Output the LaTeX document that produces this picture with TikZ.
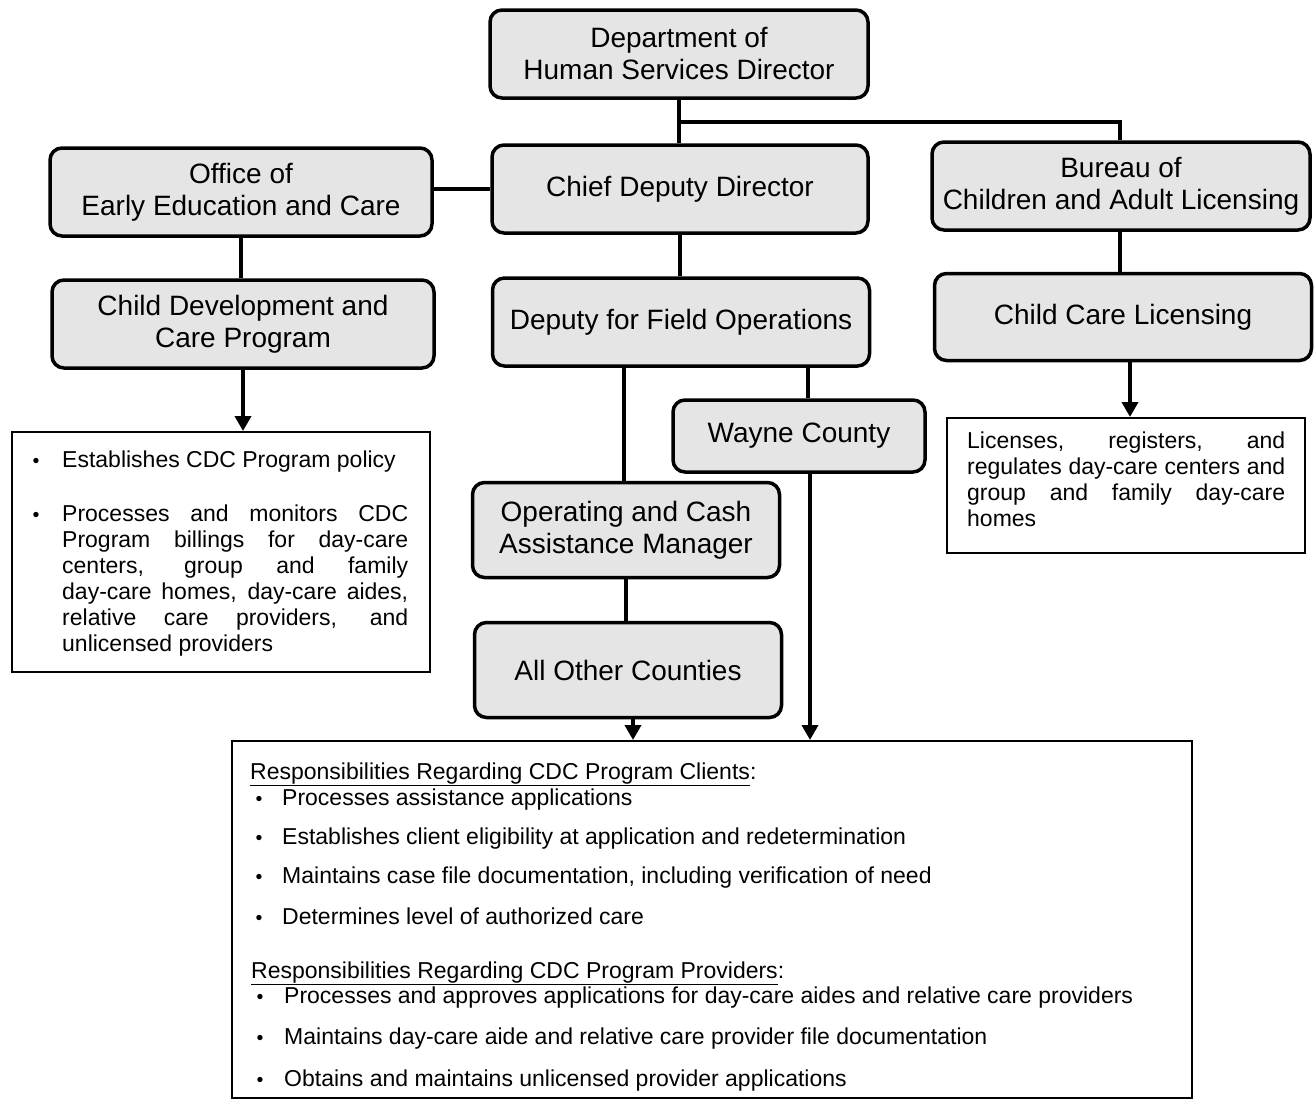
\documentclass[tikz,border=0pt]{standalone}
\usepackage{fontspec}
\setmainfont{Liberation Sans}
\usetikzlibrary{arrows.meta}
\newcommand{\smbullet}{\scalebox{0.85}{\textbullet}}
\begin{document}
\begin{tikzpicture}[x=1pt,y=-1pt,
  orgbox/.style={draw, line width=3.5pt, rounded corners=12pt, fill=black!10, align=center, inner sep=0pt, font=\fontsize{28}{32}\selectfont},
  txtbox/.style={draw, line width=2pt, inner sep=0pt},
  conn/.style={line width=4.5pt},
  arr/.style={line width=4.5pt, -{Triangle[width=16pt,length=15pt]}},
  btxt/.style={inner sep=0pt, font=\fontsize{23}{26.5}\selectfont},
  ltxt/.style={inner sep=0pt, font=\fontsize{23}{26}\selectfont}
]
\useasboundingbox (0,0) rectangle (1315,1100);
% org boxes
\node[orgbox, minimum width=378pt, minimum height=88pt] (dir) at (679,54) {Department of\\Human Services Director};
\node[orgbox, minimum width=376pt, minimum height=88pt] (cdd) at (680,189) {Chief Deputy Director};
\node[orgbox, minimum width=382pt, minimum height=88pt] (oeec) at (241,192) {Office of\\Early Education and Care};
\node[orgbox, minimum width=378pt, minimum height=88pt] (bur) at (1121,186) {Bureau of\\Children and Adult Licensing};
\node[orgbox, minimum width=382pt, minimum height=88pt] (cdcp) at (243,324) {Child Development and\\Care Program};
\node[orgbox, minimum width=377pt, minimum height=88pt] (dfo) at (681,322) {Deputy for Field Operations};
\node[orgbox, minimum width=377pt, minimum height=87pt] (ccl) at (1123,317) {Child Care Licensing};
\node[orgbox, minimum width=252pt, minimum height=72pt] (wayne) at (799,436) {Wayne County};
\node[orgbox, minimum width=307pt, minimum height=95pt] (ocam) at (626,530) {Operating and Cash\\Assistance Manager};
\node[orgbox, minimum width=307pt, minimum height=95pt] (aoc) at (628,670) {All Other Counties};
% text boxes
\node[txtbox, minimum width=418pt, minimum height=240pt] (lbox) at (221,552) {};
\node[txtbox, minimum width=358pt, minimum height=135pt] (rbox) at (1126,485.5) {};
\node[txtbox, minimum width=960pt, minimum height=357pt] (bbox) at (712,919.5) {};
% connectors
\draw[conn] (dir.south) -- (dir.south |- cdd.north);
\coordinate (jn) at (679,122);
\draw[conn] (jn) -| ([xshift=-1pt]bur.north);
\draw[conn] (oeec.east |- cdd.west) -- (cdd.west);
\draw[conn] (oeec.south) -- (oeec.south |- cdcp.north);
\draw[conn] (cdd.south) -- (cdd.south |- dfo.north);
\draw[conn] ([xshift=-1pt]bur.south) -- ([xshift=-1pt]bur.south |- ccl.north);
\draw[conn] ([xshift=-2pt]ocam.north |- dfo.south) -- ([xshift=-2pt]ocam.north);
\draw[conn] ([xshift=9pt]wayne.north |- dfo.south) -- ([xshift=9pt]wayne.north);
\draw[conn] (ocam.south) -- (ocam.south |- aoc.north);
\draw[arr] (cdcp.south) -- (cdcp.south |- lbox.north);
\draw[arr] ([xshift=7pt]ccl.south) -- ([xshift=7pt]ccl.south |- rbox.north);
\draw[arr] ([xshift=5pt]aoc.south) -- ([xshift=5pt]aoc.south |- bbox.north);
\draw[arr] ([xshift=11pt]wayne.south) -- ([xshift=11pt]wayne.south |- bbox.north);
% left box text
\node[ltxt, anchor=base] (lb1) at (36,467) {\smbullet};
\node[ltxt, anchor=base west] (lt1) at (62,467) {Establishes CDC Program policy};
\node[ltxt, anchor=base] (lb2) at (36,521) {\smbullet};
\node[ltxt, anchor=north west, text width=346pt, align=justify] (lt2) at (62,505) {Processes and monitors CDC\linebreak Program billings for day-care\linebreak centers, group and family\linebreak day-care homes, day-care aides,\linebreak relative care providers, and\linebreak unlicensed providers};
% right box text
\node[ltxt, anchor=north west, text width=318pt, align=justify] (rt) at (967,432) {Licenses, registers, and\linebreak regulates day-care centers and\linebreak group and family day-care\linebreak homes};
% bottom box text
\node[btxt, anchor=base west] (h1) at (250,779) {\underline{Responsibilities Regarding CDC Program Clients}:};
\node[btxt, anchor=base] (b1) at (259,805) {\smbullet};
\node[btxt, anchor=base west] (t1) at (282,805) {Processes assistance applications};
\node[btxt, anchor=base] (b2) at (259,844) {\smbullet};
\node[btxt, anchor=base west] (t2) at (282,844) {Establishes client eligibility at application and redetermination};
\node[btxt, anchor=base] (b3) at (259,883) {\smbullet};
\node[btxt, anchor=base west] (t3) at (282,883) {Maintains case file documentation, including verification of need};
\node[btxt, anchor=base] (b4) at (259,924) {\smbullet};
\node[btxt, anchor=base west] (t4) at (282,924) {Determines level of authorized care};
\node[btxt, anchor=base west] (h2) at (251,978) {\underline{Responsibilities Regarding CDC Program Providers}:};
\node[btxt, anchor=base] (b5) at (260,1003) {\smbullet};
\node[btxt, anchor=base west] (t5) at (284,1003) {Processes and approves applications for day-care aides and relative care providers};
\node[btxt, anchor=base] (b6) at (260,1044) {\smbullet};
\node[btxt, anchor=base west] (t6) at (284,1044) {Maintains day-care aide and relative care provider file documentation};
\node[btxt, anchor=base] (b7) at (260,1086) {\smbullet};
\node[btxt, anchor=base west] (t7) at (284,1086) {Obtains and maintains unlicensed provider applications};
\end{tikzpicture}
\end{document}
